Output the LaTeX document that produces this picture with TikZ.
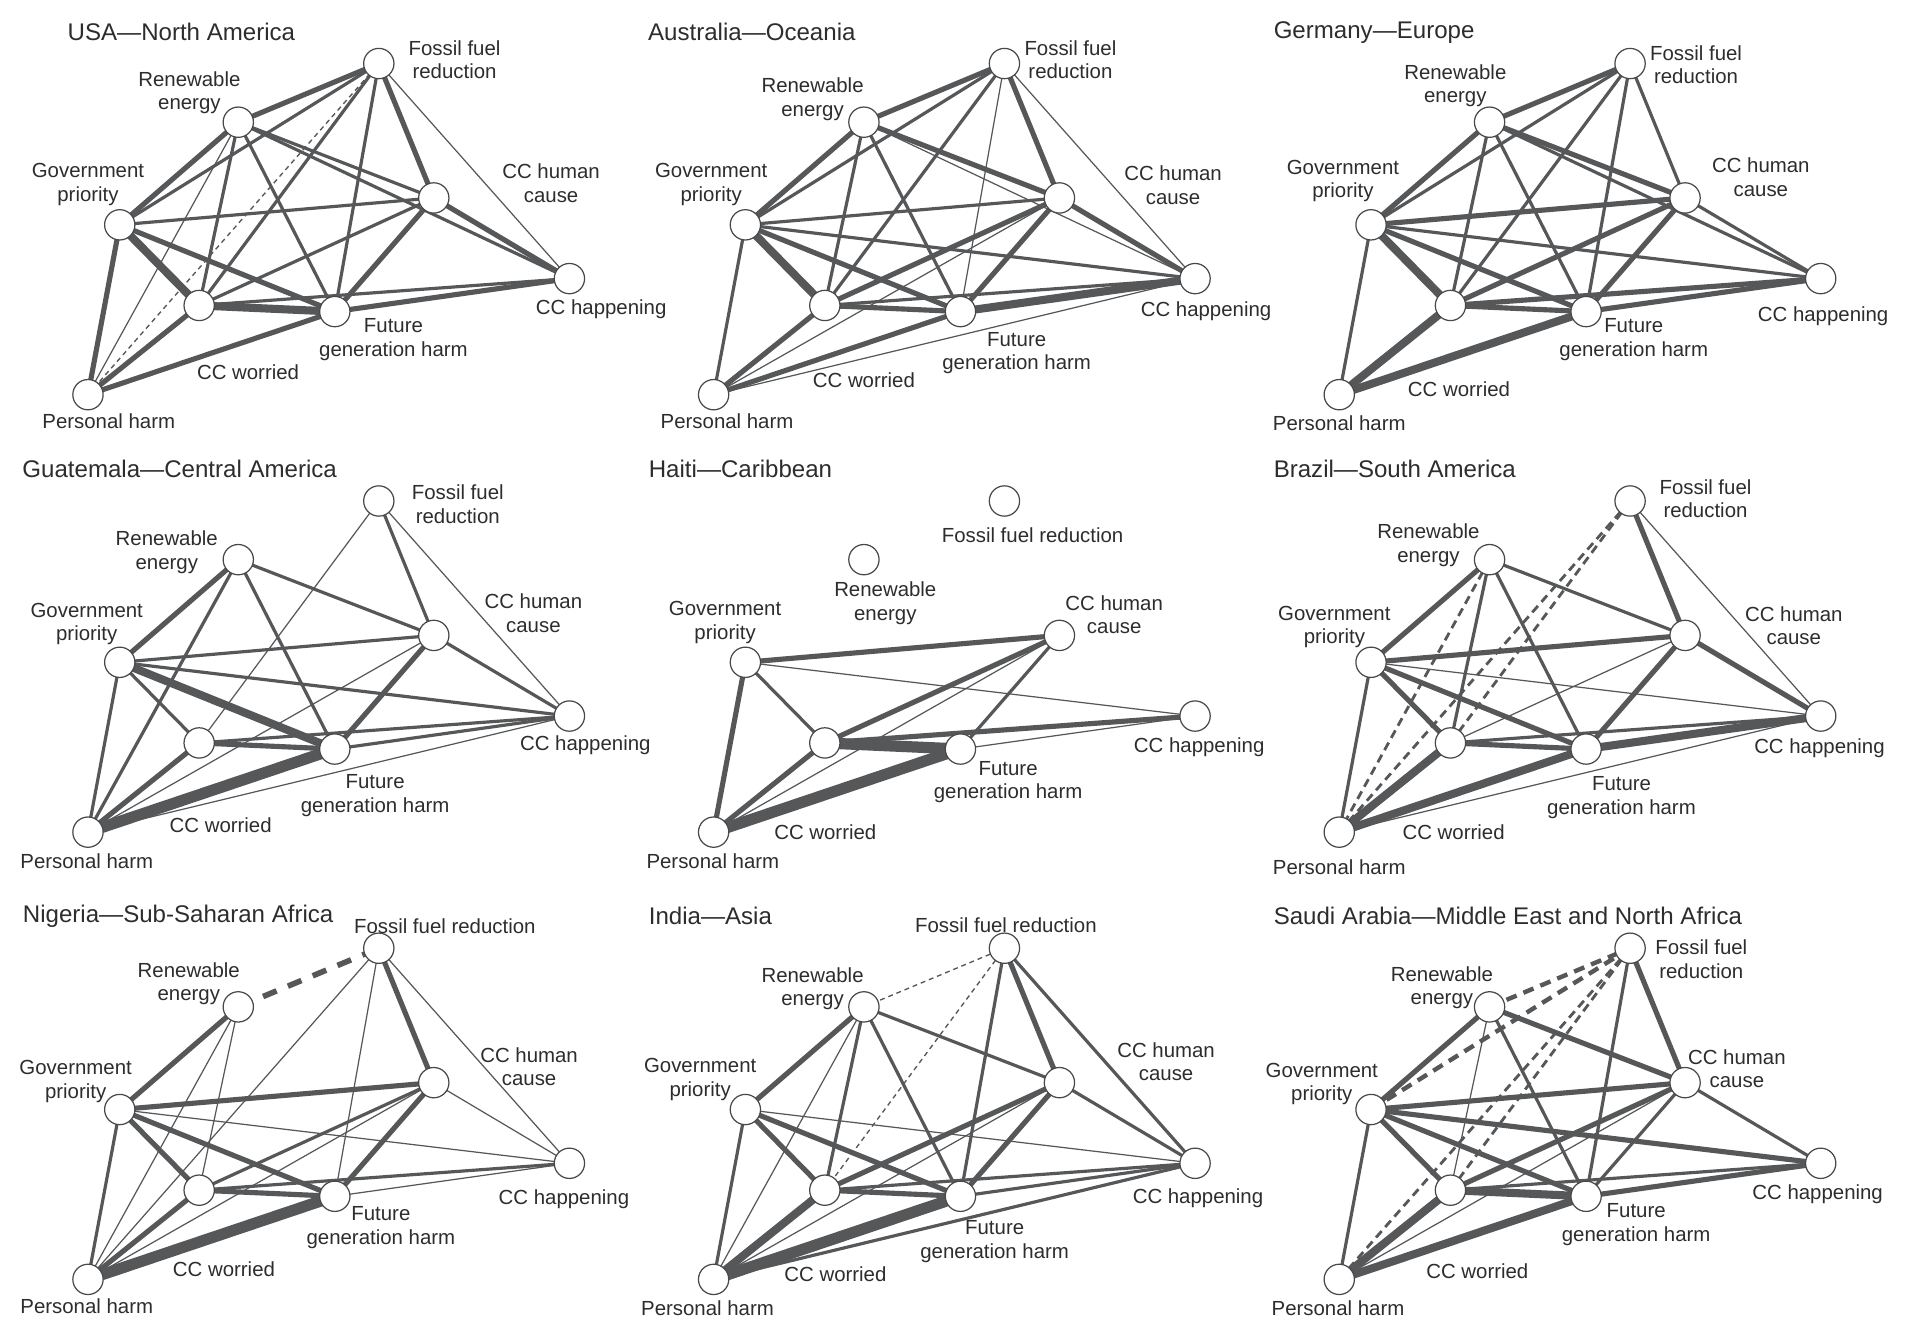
\documentclass[tikz,border=0pt]{standalone}
\usepackage{fontspec}
\setmainfont{Liberation Sans}
\usetikzlibrary{backgrounds}
\definecolor{edgec}{RGB}{86,87,89}
\definecolor{nodec}{RGB}{72,72,74}
\definecolor{txtc}{RGB}{45,45,47}
\newcommand\lblfont{\fontsize{8.35}{9.65}\selectfont}
\newcommand\ttlfont{\fontsize{9.85}{11}\selectfont}
\tikzset{
  nd/.style={circle, draw=nodec, fill=white, line width=0.5pt, minimum size=12.4pt, inner sep=0pt},
  lbl/.style={font=\lblfont, text=txtc, align=center, inner sep=0pt},
  ttl/.style={font=\ttlfont, text=txtc, anchor=west, inner sep=0pt},
  ed/.style={draw=edgec},
  wt/.style={ed, line width=0.5pt},
  wm/.style={ed, line width=1.3pt},
  wk/.style={ed, line width=2.1pt},
  wx/.style={ed, line width=3.3pt},
  wxx/.style={ed, line width=4.6pt},
  dA/.style={ed, line width=0.55pt, dash pattern=on 2pt off 1.6pt},
  dB/.style={ed, line width=1.15pt, dash pattern=on 3.5pt off 2.2pt},
  dC/.style={ed, line width=2.3pt, dash pattern=on 6pt off 5pt},
  dD/.style={ed, line width=1.8pt, dash pattern=on 4.5pt off 3pt},
}
\newcommand\mknodes[3]{%
  \node[nd] (#1FF) at ({#2+310},{#3+52}) {};
  \node[nd] (#1RE) at ({#2+195},{#3+100}) {};
  \node[nd] (#1GP) at ({#2+98},{#3+184}) {};
  \node[nd] (#1HC) at ({#2+355},{#3+162}) {};
  \node[nd] (#1HA) at ({#2+466},{#3+228}) {};
  \node[nd] (#1CW) at ({#2+163},{#3+250}) {};
  \node[nd] (#1FG) at ({#2+274},{#3+255}) {};
  \node[nd] (#1PH) at ({#2+72},{#3+323}) {};
}
\newcommand\edgeset[3]{\foreach \pa/\pb in {#3}{\draw[#2] (#1\pa.center) -- (#1\pb.center);}}
\begin{document}
\begin{tikzpicture}[x=0.5pt,y=-0.5pt]
\useasboundingbox (0,0) rectangle (1568,1090);
% nodes
\mknodes{A}{0}{0}
\mknodes{B}{512}{0}
\mknodes{C}{1024}{0}
\mknodes{D}{0}{358}
\mknodes{E}{512}{358}
\mknodes{F}{1024}{358}
\mknodes{G}{0}{724}
\mknodes{H}{512}{724}
\mknodes{I}{1024}{724}
\begin{pgfonlayer}{background}
\fill[white] (0,0) rectangle (1568,1090);
% USA
\edgeset{A}{wt}{HA/FF, RE/PH}
\edgeset{A}{dA}{PH/FF}
\edgeset{A}{wm}{GP/FF, CW/FF, FG/FF, RE/CW, RE/FG, RE/HC, RE/HA, GP/HC, CW/HC, CW/HA}
\edgeset{A}{wk}{RE/FF, HC/FF, RE/GP, GP/FG, GP/PH, FG/HC, HC/HA, FG/HA, CW/PH, FG/PH}
\edgeset{A}{wx}{GP/CW, CW/FG}
% Australia
\edgeset{B}{wt}{FG/FF, HA/FF, RE/HA, PH/HC, PH/HA}
\edgeset{B}{wm}{GP/FF, CW/FF, RE/CW, RE/FG, GP/HC, GP/HA, GP/PH, CW/HA}
\edgeset{B}{wk}{RE/FF, HC/FF, RE/GP, RE/HC, GP/FG, CW/HC, FG/HC, HC/HA, CW/FG, CW/PH, FG/PH}
\edgeset{B}{wx}{GP/CW, FG/HA}
% Germany
\edgeset{C}{wm}{GP/FF, CW/FF, FG/FF, HC/FF, RE/CW, RE/FG, RE/HA, GP/HA, GP/PH, HC/HA}
\edgeset{C}{wk}{RE/FF, RE/GP, RE/HC, GP/HC, GP/FG, CW/HC, FG/HC, CW/FG, CW/HA, FG/HA}
\edgeset{C}{wx}{GP/CW, CW/PH, FG/PH}
% Guatemala
\edgeset{D}{wt}{CW/FF, HA/FF, PH/HC, PH/HA}
\edgeset{D}{wm}{HC/FF, RE/PH, RE/FG, RE/HC, GP/HC, GP/HA, GP/CW, GP/PH, CW/HA, FG/HA, HC/HA}
\edgeset{D}{wk}{RE/GP, CW/FG, FG/HC, CW/PH}
\edgeset{D}{wx}{GP/FG}
\edgeset{D}{wxx}{FG/PH}
% Haiti
\edgeset{E}{wt}{GP/HA, FG/HA, PH/HC}
\edgeset{E}{wm}{GP/CW, FG/HC}
\edgeset{E}{wk}{GP/HC, GP/PH, CW/HC, CW/HA, CW/PH}
\edgeset{E}{wxx}{CW/FG, FG/PH}
% Brazil
\edgeset{F}{wt}{HA/FF, GP/HA, CW/HC, PH/HA}
\edgeset{F}{dB}{PH/FF, CW/FF, RE/PH}
\edgeset{F}{wm}{RE/CW, RE/FG, RE/HC, GP/PH, CW/HA}
\edgeset{F}{wk}{HC/FF, RE/GP, GP/HC, GP/CW, GP/FG, CW/FG, FG/HC, HC/HA}
\edgeset{F}{wx}{CW/PH, FG/HA, FG/PH}
% Nigeria
\edgeset{G}{wt}{FF/PH, FF/FG, FF/HA, RE/PH, RE/CW, GP/HA, FG/HA, HC/HA, PH/HC}
\edgeset{G}{dC}{RE/FF}
\edgeset{G}{wm}{GP/PH, CW/HC, CW/HA}
\edgeset{G}{wk}{HC/FF, RE/GP, GP/HC, GP/CW, GP/FG, CW/FG, CW/PH, FG/HC}
\edgeset{G}{wxx}{FG/PH}
% India
\edgeset{H}{wt}{RE/PH, GP/HA, PH/HC}
\edgeset{H}{dA}{RE/FF, CW/FF}
\edgeset{H}{wm}{FG/FF, HA/FF, RE/CW, RE/FG, RE/HC, GP/PH, CW/HA, FG/HA, HC/HA, PH/HA}
\edgeset{H}{wk}{HC/FF, RE/GP, GP/CW, GP/FG, CW/HC, CW/FG, FG/HC}
\edgeset{H}{wx}{CW/PH}
\edgeset{H}{wxx}{FG/PH}
% Saudi Arabia
\edgeset{I}{wt}{RE/CW, PH/HC}
\edgeset{I}{dB}{CW/FF, PH/FF}
\edgeset{I}{dD}{RE/FF, GP/FF}
\edgeset{I}{wm}{FG/FF, RE/FG, GP/PH, CW/HA, FG/HC, HC/HA}
\edgeset{I}{wk}{HC/FF, RE/GP, RE/HC, GP/HC, GP/HA, GP/CW, GP/FG, CW/HC, FG/HA}
\edgeset{I}{wx}{CW/FG, CW/PH, FG/PH}
\end{pgfonlayer}
% ---------- labels ----------
% USA
\node[ttl] (AT) at (55,26) {USA—North America};
\node[lbl] (ALFF) at (372,49) {Fossil fuel\\reduction};
\node[lbl] (ALRE) at (155,76) {Renewable\\energy};
\node[lbl] (ALGP) at (72,151) {Government\\priority};
\node[lbl] (ALHC) at (451,150) {CC human\\cause};
\node[lbl] (ALHA) at (492,253) {CC happening};
\node[lbl] (ALFG) at (322,278) {Future\\generation harm};
\node[lbl] (ALCW) at (203,305) {CC worried};
\node[lbl] (ALPH) at (89,345) {Personal harm};
% Australia
\node[ttl] (BT) at (530,26.5) {Australia—Oceania};
\node[lbl] (BLFF) at (876,49) {Fossil fuel\\reduction};
\node[lbl] (BLRE) at (665,81) {Renewable\\energy};
\node[lbl] (BLGP) at (582,151) {Government\\priority};
\node[lbl] (BLHC) at (960,151.5) {CC human\\cause};
\node[lbl] (BLHA) at (987,255) {CC happening};
\node[lbl] (BLFG) at (832,289) {Future\\generation harm};
\node[lbl] (BLCW) at (707,311) {CC worried};
\node[lbl] (BLPH) at (595,345) {Personal harm};
% Germany
\node[ttl] (CT) at (1042,26.5) {Germany—Europe};
\node[lbl] (CLFF) at (1388,53) {Fossil fuel\\reduction};
\node[lbl] (CLRE) at (1191,70) {Renewable\\energy};
\node[lbl] (CLGP) at (1099,148) {Government\\priority};
\node[lbl] (CLHC) at (1441,145) {CC human\\cause};
\node[lbl] (CLHA) at (1492,259) {CC happening};
\node[lbl] (CLFG) at (1337,278) {Future\\generation harm};
\node[lbl] (CLCW) at (1194,318.5) {CC worried};
\node[lbl] (CLPH) at (1096,346) {Personal harm};
% Guatemala
\node[ttl] (DT) at (18,384) {Guatemala—Central America};
\node[lbl] (DLFF) at (374.6,412.5) {Fossil fuel\\reduction};
\node[lbl] (DLRE) at (136.5,452) {Renewable\\energy};
\node[lbl] (DLGP) at (71,510.5) {Government\\priority};
\node[lbl] (DLHC) at (436.5,502) {CC human\\cause};
\node[lbl] (DLHA) at (479,610) {CC happening};
\node[lbl] (DLFG) at (307,651) {Future\\generation harm};
\node[lbl] (DLCW) at (180.6,675) {CC worried};
\node[lbl] (DLPH) at (71,704.5) {Personal harm};
% Haiti
\node[ttl] (ET) at (530.6,384) {Haiti—Caribbean};
\node[lbl] (ELFF) at (845,438) {Fossil fuel reduction};
\node[lbl] (ELRE) at (724.5,493.6) {Renewable\\energy};
\node[lbl] (ELGP) at (593.4,509.3) {Government\\priority};
\node[lbl] (ELHC) at (911.8,503) {CC human\\cause};
\node[lbl] (ELHA) at (981.4,611.5) {CC happening};
\node[lbl] (ELFG) at (825,640) {Future\\generation harm};
\node[lbl] (ELCW) at (675.4,681) {CC worried};
\node[lbl] (ELPH) at (583.4,704.5) {Personal harm};
% Brazil
\node[ttl] (FT) at (1042,384) {Brazil—South America};
\node[lbl] (FLFF) at (1395.7,408) {Fossil fuel\\reduction};
\node[lbl] (FLRE) at (1169,446) {Renewable\\energy};
\node[lbl] (FLGP) at (1092,513) {Government\\priority};
\node[lbl] (FLHC) at (1468,512) {CC human\\cause};
\node[lbl] (FLHA) at (1489,612) {CC happening};
\node[lbl] (FLFG) at (1327,652.5) {Future\\generation harm};
\node[lbl] (FLCW) at (1189.6,681) {CC worried};
\node[lbl] (FLPH) at (1096,710) {Personal harm};
% Nigeria
\node[ttl] (GT) at (18.4,749.6) {Nigeria—Sub-Saharan Africa};
\node[lbl] (GLFF) at (364,758.3) {Fossil fuel reduction};
\node[lbl] (GLRE) at (154.5,805) {Renewable\\energy};
\node[lbl] (GLGP) at (61.9,885) {Government\\priority};
\node[lbl] (GLHC) at (433,873) {CC human\\cause};
\node[lbl] (GLHA) at (461.5,981.4) {CC happening};
\node[lbl] (GLFG) at (311.7,1004.8) {Future\\generation harm};
\node[lbl] (GLCW) at (183.3,1038.6) {CC worried};
\node[lbl] (GLPH) at (71,1069.2) {Personal harm};
% India
\node[ttl] (HT) at (530.6,749.6) {India—Asia};
\node[lbl] (HLFF) at (823.2,757) {Fossil fuel reduction};
\node[lbl] (HLRE) at (665,809) {Renewable\\energy};
\node[lbl] (HLGP) at (573,883.5) {Government\\priority};
\node[lbl] (HLHC) at (954.3,868.8) {CC human\\cause};
\node[lbl] (HLHA) at (980.4,980.5) {CC happening};
\node[lbl] (HLFG) at (814,1016) {Future\\generation harm};
\node[lbl] (HLCW) at (683.7,1042.7) {CC worried};
\node[lbl] (HLPH) at (579,1070.5) {Personal harm};
% Saudi Arabia
\node[ttl] (IT) at (1042,749.6) {Saudi Arabia—Middle East and North Africa};
\node[lbl] (ILFF) at (1392.3,785) {Fossil fuel\\reduction};
\node[lbl] (ILRE) at (1180,808.4) {Renewable\\energy};
\node[lbl] (ILGP) at (1081.7,887) {Government\\priority};
\node[lbl] (ILHC) at (1421.4,874.5) {CC human\\cause};
\node[lbl] (ILHA) at (1487.5,977.3) {CC happening};
\node[lbl] (ILFG) at (1339,1002.4) {Future\\generation harm};
\node[lbl] (ILCW) at (1209,1040.5) {CC worried};
\node[lbl] (ILPH) at (1095,1070.5) {Personal harm};
\end{tikzpicture}
\end{document}
